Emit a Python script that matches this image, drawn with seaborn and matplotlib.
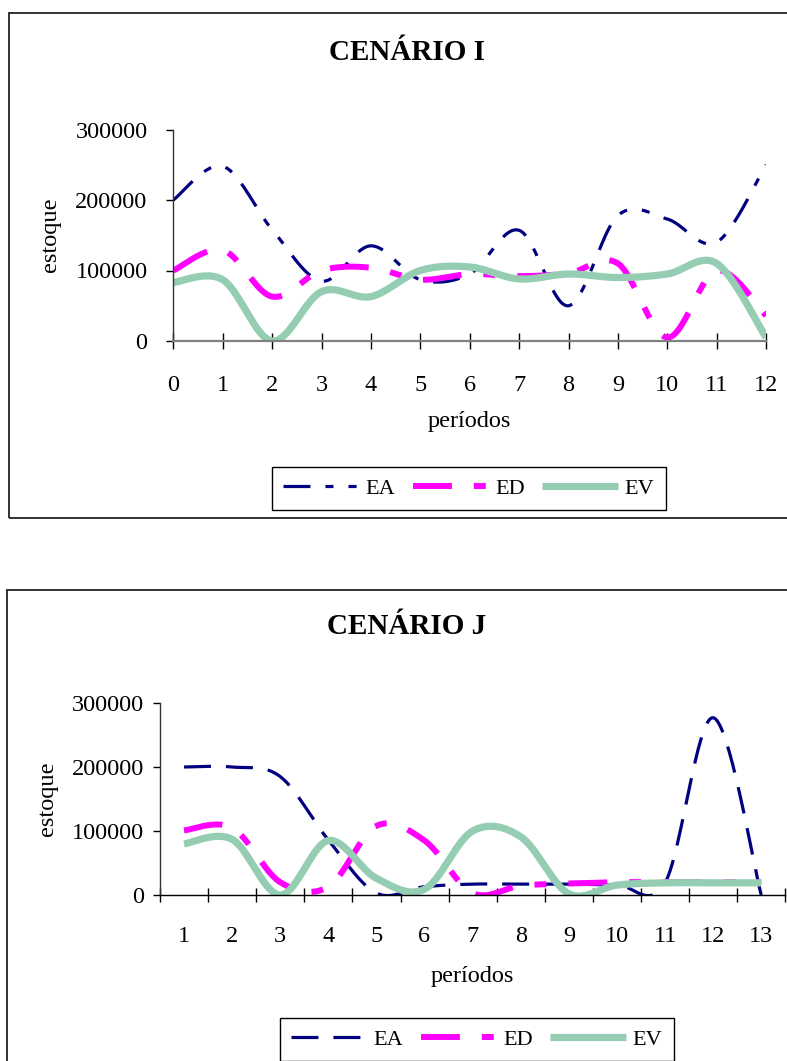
import numpy as np
import pandas as pd
import matplotlib
matplotlib.use("Agg")
import matplotlib.pyplot as plt
from matplotlib.patches import Rectangle
import seaborn as sns

sns.set_theme(style="white")
plt.rcParams["font.family"] = ["Liberation Serif", "DejaVu Serif"]
plt.rcParams["lines.scale_dashes"] = False
plt.rcParams["lines.solid_capstyle"] = "butt"
plt.rcParams["lines.dash_capstyle"] = "butt"
for key in ["text.color", "axes.labelcolor", "xtick.color", "ytick.color"]:
    plt.rcParams[key] = "black"

# ---- Cenário I (periods 0..12) ----
periods_i = list(range(0, 13))
ea_i = [200000, 248000, 158000, 85000, 135000, 87000, 95000, 157000, 50000, 178000, 173000, 140000, 250000]
ed_i = [100000, 129000, 63000, 100000, 104000, 87000, 95000, 92000, 96000, 110000, 5000, 100000, 36000]
ev_i = [83000, 87000, 0, 70000, 63000, 100000, 105000, 88000, 95000, 90000, 95000, 110000, 5000]

# ---- Cenário J (periods 1..13) ----
periods_j = list(range(1, 14))
ea_j = [200000, 200000, 185000, 86000, 3000, 13000, 17000, 17000, 17000, 16000, 19000, 277000, 0]
ed_j = [101000, 105000, 20000, 13000, 108000, 85000, 3000, 14500, 18000, 20000, 20000, 20000, 20000]
ev_j = [80000, 87000, 0, 85000, 26000, 9000, 100000, 91000, 2000, 15500, 19000, 19000, 19000]

y_ticks = [0, 100000, 200000, 300000]
series_names = ["EA", "ED", "EV"]

NAVY = "#000080"
MAGENTA = "#FF00FF"
SEAGREEN = "#95CDB3"

W, H = 787, 1061
DPI = 100


def smooth_path(xv, yv, steps=40):
    """Bezier smoothing through every point (control points at 1/6 of the neighbour chord)."""
    p = np.column_stack([np.asarray(xv, float), np.asarray(yv, float)])
    n = len(p)
    ext = np.vstack([p[0], p, p[-1]])
    out = []
    t = np.linspace(0, 1, steps)[:, None]
    for i in range(n - 1):
        p0 = ext[i + 1]
        p3 = ext[i + 2]
        p1 = p0 + (ext[i + 2] - ext[i]) / 6.0
        p2 = p3 - (ext[i + 3] - ext[i + 1]) / 6.0
        seg = ((1 - t) ** 3) * p0 + 3 * ((1 - t) ** 2) * t * p1 + 3 * (1 - t) * t ** 2 * p2 + t ** 3 * p3
        out.append(seg if i == 0 else seg[1:])
    s = np.vstack(out)
    return s[:, 0], s[:, 1]


def px_axes(fig, left, top, right, bottom):
    return fig.add_axes([left / W, 1 - bottom / H, (right - left) / W, (bottom - top) / H])


fig = plt.figure(figsize=(W / DPI, H / DPI), dpi=DPI)
fig.patch.set_facecolor("white")

# panel frames
fig.patches.append(Rectangle((9 / W, 1 - 518 / H), 1.2, (518 - 13) / H, transform=fig.transFigure,
                             fill=False, edgecolor="#222222", linewidth=1.3, zorder=0))
fig.patches.append(Rectangle((7 / W, -0.2), 1.2, 0.2 + (1 - 590 / H), transform=fig.transFigure,
                             fill=False, edgecolor="#222222", linewidth=1.3, zorder=0))


def draw_panel(ax, xs, ea, ed, ev, ea_style, ypad):
    styles = [
        (ea, NAVY, 2.3, ea_style),
        (ed, MAGENTA, 4.3, (0, (28, 15.8, 8.6, 15.8))),
        (ev, SEAGREEN, 5.2, "-"),
    ]
    handles = []
    for name, (vals, col, lw, ls) in zip(series_names, styles):
        sx, sy = smooth_path(xs, vals)
        df = pd.DataFrame({"periodo": sx, "estoque": sy})
        sns.lineplot(data=df, x="periodo", y="estoque", ax=ax, color=col, linewidth=lw,
                     sort=False, estimator=None, legend=False)
        ln = ax.lines[-1]
        ln.set_linestyle(ls)
        ln.set_label(name)
        handles.append(ln)
    ax.set_ylim(0, 300000)
    ax.set_yticks(y_ticks)
    ax.set_yticklabels([str(v) for v in y_ticks])
    for side in ["top", "right"]:
        ax.spines[side].set_visible(False)
    ax.spines["left"].set_color("#333333")
    ax.spines["left"].set_linewidth(1.0)
    ax.tick_params(axis="y", direction="out", length=5, width=1, color="black",
                   labelsize=17.5, pad=ypad, left=True)
    ax.set_facecolor("white")
    ax.grid(False)
    return handles


legend_kw = dict(loc="upper left", ncol=3, fontsize=16, frameon=True, fancybox=False,
                 edgecolor="black", framealpha=1, borderaxespad=0, handlelength=3.4,
                 handletextpad=0.3, columnspacing=0.8, borderpad=0.5)

# ---------- top panel ----------
ax1 = px_axes(fig, 173.3, 129.5, 766.1, 341)
h1 = draw_panel(ax1, periods_i, ea_i, ed_i, ev_i, (0, (19.4, 10.8, 5.8, 10.8, 5.8, 10.8)), 13.5)
ax1.set_xlim(0, 12)
ax1.set_xticks(periods_i)
ax1.set_xticklabels([str(v) for v in periods_i])
ax1.spines["bottom"].set_color("#808080")
ax1.spines["bottom"].set_linewidth(1.6)
ax1.tick_params(axis="x", direction="inout", length=11, width=1, color="black",
                labelsize=17.5, pad=19, bottom=True)
ax1.set_xlabel("períodos", fontsize=17.5, labelpad=11)
ax1.set_ylabel("estoque", fontsize=17.5, labelpad=10)
fig.text(407 / W, 1 - 52 / H, "CENÁRIO I", ha="center", va="center", fontsize=21, fontweight="bold")
fig.legend(handles=h1, labels=series_names, bbox_to_anchor=(272 / W, 1 - 467 / H),
           bbox_transform=fig.transFigure, **legend_kw)

# ---------- bottom panel ----------
ax2 = px_axes(fig, 160, 703, 785.3, 895)
h2 = draw_panel(ax2, periods_j, ea_j, ed_j, ev_j, (0, (19.4, 10.8)), 6.5)
ax2.set_xlim(0.5, 13.5)
ax2.set_xticks([v - 0.5 for v in periods_j] + [13.5])
ax2.set_xticklabels([])
ax2.set_xticks(periods_j, minor=True)
ax2.set_xticklabels([str(v) for v in periods_j], minor=True)
ax2.spines["bottom"].set_color("black")
ax2.spines["bottom"].set_linewidth(1.0)
ax2.tick_params(axis="x", which="major", direction="inout", length=10, width=1, color="black", bottom=True)
ax2.tick_params(axis="x", which="minor", length=0, labelsize=17.5, pad=22, bottom=True)
ax2.set_xlabel("períodos", fontsize=17.5, labelpad=14)
ax2.set_ylabel("estoque", fontsize=17.5, labelpad=10)
fig.text(407 / W, 1 - 627 / H, "CENÁRIO J", ha="center", va="center", fontsize=21, fontweight="bold")
fig.legend(handles=h2, labels=series_names, bbox_to_anchor=(280 / W, 1 - 1018 / H),
           bbox_transform=fig.transFigure, **legend_kw)

fig.savefig("out.png", dpi=DPI, facecolor="white")
